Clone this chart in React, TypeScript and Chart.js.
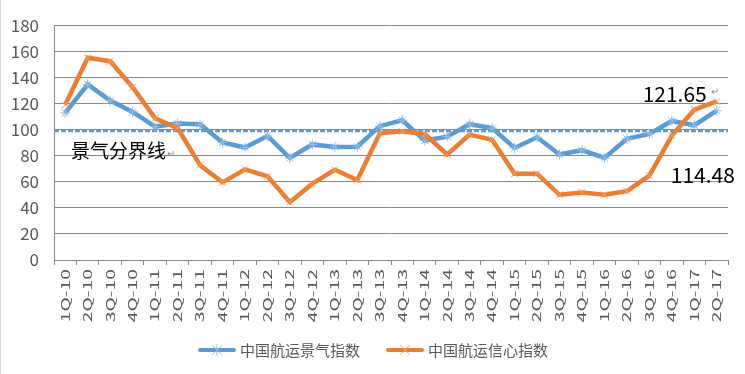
import React, { useEffect, useRef } from "react";
import { Chart, registerables } from "chart.js";

Chart.register(...registerables);

const categories = [
  "1Q-10", "2Q-10", "3Q-10", "4Q-10",
  "1Q-11", "2Q-11", "3Q-11", "4Q-11",
  "1Q-12", "2Q-12", "3Q-12", "4Q-12",
  "1Q-13", "2Q-13", "3Q-13", "4Q-13",
  "1Q-14", "2Q-14", "3Q-14", "4Q-14",
  "1Q-15", "2Q-15", "3Q-15", "4Q-15",
  "1Q-16", "2Q-16", "3Q-16", "4Q-16",
  "1Q-17", "2Q-17",
];

const prosperityIndex = [
  112.8, 134.6, 122.3, 113.5, 102.3, 104.6, 104.0, 90.1, 86.2, 95.1,
  78.2, 88.6, 86.7, 86.9, 102.6, 107.1, 91.6, 94.6, 104.1, 101.1,
  85.9, 94.1, 80.9, 84.2, 78.2, 92.9, 96.6, 106.6, 103.3, 114.48,
];

const confidenceIndex = [
  119.0, 155.0, 152.4, 132.5, 108.6, 101.1, 72.7, 59.5, 69.5, 64.2,
  44.3, 58.5, 69.2, 61.3, 97.1, 98.6, 96.6, 80.9, 96.1, 92.1,
  66.2, 66.2, 50.0, 51.8, 50.0, 52.8, 64.7, 95.4, 115.3, 121.65,
];

const seriesNames = ["中国航运景气指数", "中国航运信心指数"];
const refLineValue = 99;
const refLineLabel = "景气分界线";
const yTicks = { min: 0, max: 180, step: 20 };

const BLUE = "#5B9BD5";
const ORANGE = "#ED7D31";
const BLUE_MARK = "#8fbde6";
const ORANGE_MARK = "#f5a26b";
const GREY_TEXT = "#595959";
const GRID = "#878787";
const FONT = '"Noto Sans CJK SC", "Noto Sans", sans-serif';

function drawMarker(ctx: CanvasRenderingContext2D, cx: number, cy: number, kind: "star" | "cross", color: string) {
  const r = 4.5;
  ctx.save();
  ctx.strokeStyle = color;
  ctx.lineWidth = 1;
  ctx.beginPath();
  ctx.moveTo(cx - r, cy - r);
  ctx.lineTo(cx + r, cy + r);
  ctx.moveTo(cx - r, cy + r);
  ctx.lineTo(cx + r, cy - r);
  if (kind === "star") {
    ctx.moveTo(cx, cy - r - 1);
    ctx.lineTo(cx, cy + r + 1);
  }
  ctx.stroke();
  ctx.restore();
}

const refLinePlugin = {
  id: "refLine",
  beforeDatasetsDraw(chart: any) {
    const { ctx, chartArea, scales } = chart;
    const y = scales.y.getPixelForValue(refLineValue);
    ctx.save();
    ctx.strokeStyle = BLUE;
    ctx.lineWidth = 2.7;
    ctx.setLineDash([5, 2]);
    ctx.beginPath();
    ctx.moveTo(chartArea.left, y);
    ctx.lineTo(chartArea.right, y);
    ctx.stroke();
    ctx.restore();
  },
};

const xLabelPlugin = {
  id: "xLabels",
  afterDraw(chart: any) {
    const { ctx, chartArea, scales } = chart;
    const xs = scales.x;
    ctx.save();
    ctx.fillStyle = GREY_TEXT;
    ctx.font = `11.5px ${FONT}`;
    ctx.textAlign = "right";
    ctx.textBaseline = "middle";
    categories.forEach((label, i) => {
      const x = xs.getPixelForValue(i);
      ctx.save();
      ctx.translate(x, chartArea.bottom + 9);
      ctx.rotate(-Math.PI / 2);
      ctx.scale(1.68, 1);
      ctx.fillText(label, 0, 0);
      ctx.restore();
    });
    ctx.restore();
  },
};

const legendPlugin = {
  id: "customLegend",
  afterDraw(chart: any) {
    const { ctx } = chart;
    const items = [
      { name: seriesNames[0], color: BLUE, mark: BLUE_MARK, kind: "star" as const },
      { name: seriesNames[1], color: ORANGE, mark: ORANGE_MARK, kind: "cross" as const },
    ];
    const iconW = 38;
    const gapText = 4;
    const gapItem = 26;
    ctx.save();
    ctx.font = `15px ${FONT}`;
    const widths = items.map((it) => iconW + gapText + ctx.measureText(it.name).width);
    const total = widths.reduce((a, b) => a + b, 0) + gapItem * (items.length - 1);
    let x = chart.width / 2 - total / 2;
    const cy = 350;
    items.forEach((it, i) => {
      ctx.strokeStyle = it.color;
      ctx.lineWidth = 4;
      ctx.lineCap = "round";
      ctx.beginPath();
      ctx.moveTo(x + 2, cy);
      ctx.lineTo(x + iconW - 2, cy);
      ctx.stroke();
      drawMarker(ctx, x + iconW / 2, cy, it.kind, it.mark);
      ctx.fillStyle = GREY_TEXT;
      ctx.textAlign = "left";
      ctx.textBaseline = "middle";
      ctx.fillText(it.name, x + iconW + gapText, cy);
      x += widths[i] + gapItem;
    });
    ctx.restore();
  },
};

const annotationPlugin = {
  id: "annotations",
  afterDatasetsDraw(chart: any) {
    const { ctx, chartArea, scales } = chart;
    const xs = scales.x;
    const ys = scales.y;
    const last = categories.length - 1;
    const xLast = xs.getPixelForValue(last);
    ctx.save();
    const yRef = ys.getPixelForValue(refLineValue);
    ctx.font = `19px ${FONT}`;
    ctx.fillStyle = "#000";
    ctx.textBaseline = "middle";
    ctx.textAlign = "left";
    ctx.fillText(refLineLabel, chartArea.left + 17, yRef + 19.5);
    const w = ctx.measureText(refLineLabel).width;
    ctx.font = `10px ${FONT}`;
    ctx.fillStyle = "#888";
    ctx.fillText("↵", chartArea.left + 18 + w, yRef + 22);

    const confLast = confidenceIndex[last];
    const prosLast = prosperityIndex[last];
    ctx.font = `21px ${FONT}`;
    ctx.fillStyle = "#000";
    ctx.textAlign = "right";
    ctx.textBaseline = "alphabetic";
    ctx.fillText(confLast.toFixed(2), xLast - 10, ys.getPixelForValue(confLast) + 0.5);
    ctx.font = `10px ${FONT}`;
    ctx.fillStyle = "#888";
    ctx.textAlign = "left";
    ctx.fillText("↵", xLast - 6, ys.getPixelForValue(confLast) - 6);

    ctx.font = `21px ${FONT}`;
    ctx.fillStyle = "#000";
    ctx.textAlign = "left";
    ctx.fillText(prosLast.toFixed(2), xLast - 46, ys.getPixelForValue(prosLast) + 72);
    ctx.restore();
  },
};

export default function App() {
  const canvasRef = useRef<HTMLCanvasElement | null>(null);

  useEffect(() => {
    if (!canvasRef.current) return;
    const chart = new Chart(canvasRef.current, {
      type: "line",
      data: {
        labels: categories,
        datasets: [
          {
            label: seriesNames[0],
            data: prosperityIndex,
            borderColor: BLUE,
            backgroundColor: BLUE,
            borderWidth: 4.5,
            pointStyle: "star",
            pointRadius: 5,
            pointBorderWidth: 1,
            pointBorderColor: BLUE_MARK,
            tension: 0,
            order: 1,
          },
          {
            label: seriesNames[1],
            data: confidenceIndex,
            borderColor: ORANGE,
            backgroundColor: ORANGE,
            borderWidth: 4.5,
            pointStyle: "crossRot",
            pointRadius: 5,
            pointBorderWidth: 1,
            pointBorderColor: ORANGE_MARK,
            tension: 0,
            order: 0,
          },
        ],
      },
      options: {
        animation: false,
        responsive: true,
        maintainAspectRatio: false,
        layout: { autoPadding: false, padding: { left: 9, right: 17, top: 18, bottom: 44 } },
        scales: {
          x: {
            offset: true,
            afterFit: (scale: any) => {
              scale.height = 70;
            },
            grid: {
              offset: true,
              drawOnChartArea: false,
              drawTicks: true,
              tickLength: 5,
              color: GRID,
            },
            border: { display: true, color: GRID, width: 1 },
            ticks: {
              display: false,
              autoSkip: false,
            },
          },
          y: {
            min: yTicks.min,
            max: yTicks.max,
            afterFit: (scale: any) => {
              scale.width = 44;
            },
            ticks: {
              stepSize: yTicks.step,
              color: GREY_TEXT,
              font: { family: FONT, size: 17 },
              padding: 15,
            },
            grid: { color: GRID, lineWidth: 1, drawTicks: false },
            border: { display: true, color: GRID, width: 1 },
          },
        },
        plugins: {
          tooltip: { enabled: false },
          legend: { display: false },
        },
      },
      plugins: [refLinePlugin, annotationPlugin, xLabelPlugin, legendPlugin],
    });
    return () => chart.destroy();
  }, []);

  return (
    <div
      style={{
        position: "fixed",
        left: 0,
        top: 0,
        width: 745,
        height: 374,
        background: "#fff",
        borderLeft: "1px solid #d9d9d9",
        boxSizing: "border-box",
      }}
    >
      <canvas ref={canvasRef} />
    </div>
  );
}
